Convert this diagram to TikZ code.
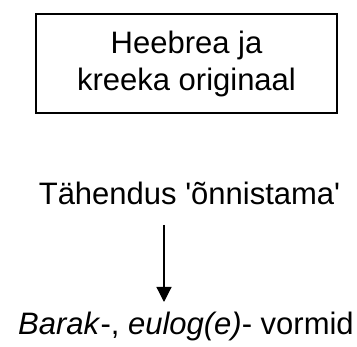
\documentclass[tikz,border=0pt]{standalone}
\usepackage{fontspec}
\setmainfont{Liberation Sans}[Ligatures=TeXOff]
\usetikzlibrary{arrows.meta}
\tikzset{
  lbl/.style={font=\fontsize{31}{37}\selectfont, inner sep=0pt},
  boxed/.style={draw, line width=1.3pt, minimum width=301pt, minimum height=99pt, align=center, font=\fontsize{31}{37}\selectfont},
  arr/.style={line width=1.2pt, -{Triangle[width=15pt,length=15pt]}}
}
\begin{document}
\begin{tikzpicture}[x=1pt,y=-1pt]
\useasboundingbox (0,0) rectangle (357,347);
\node[boxed] (orig) at (186.5,63.5) {Heebrea ja\\kreeka originaal};
\node[lbl, anchor=base] (mean) at (189.5,205) {Tähendus \textquotesingle õnnistama\textquotesingle};
\node[lbl, anchor=base] (forms) at (186,335) {\textit{Barak}-, \textit{eulog(e)}- vormid};
\coordinate (a1) at (164,225);
\coordinate (a2) at (164,302);
\draw[arr] (a1) -- (a2);
\end{tikzpicture}
\end{document}
